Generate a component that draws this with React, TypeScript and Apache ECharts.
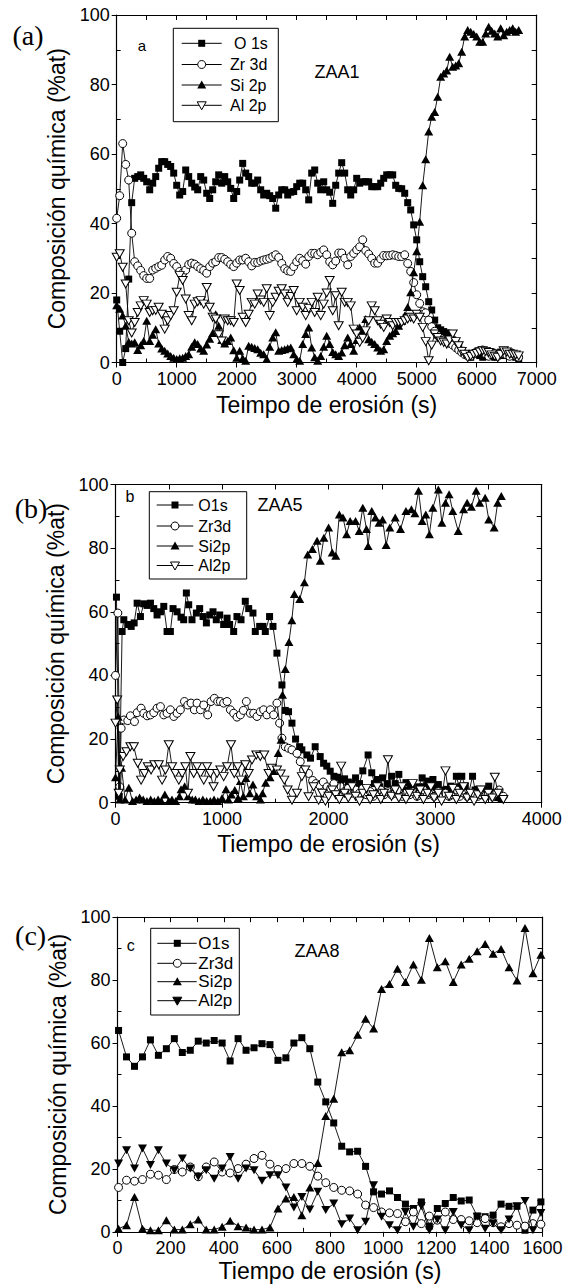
import { useEffect, useRef } from "react";
import * as echarts from "echarts";

// ---------------- DATA ----------------
// Panel (a) ZAA1 : erosion time (s)
const aTime = [
  0, 50, 100, 150, 200, 250, 300, 350, 400, 450,
  500, 550, 600, 650, 700, 750, 800, 850, 900, 950,
  1000, 1050, 1100, 1150, 1200, 1250, 1300, 1350, 1400, 1450,
  1500, 1550, 1600, 1650, 1700, 1750, 1800, 1850, 1900, 1950,
  2000, 2050, 2100, 2150, 2200, 2250, 2300, 2350, 2400, 2450,
  2500, 2550, 2600, 2650, 2700, 2750, 2800, 2850, 2900, 2950,
  3000, 3050, 3100, 3150, 3200, 3250, 3300, 3350, 3400, 3450,
  3500, 3550, 3600, 3650, 3700, 3750, 3800, 3850, 3900, 3950,
  4000, 4050, 4100, 4150, 4200, 4250, 4300, 4350, 4400, 4450,
  4500, 4550, 4600, 4650, 4700, 4750, 4800, 4850, 4900, 4950,
  5000, 5050, 5100, 5150, 5200, 5250, 5300, 5350, 5400, 5450,
  5500, 5550, 5600, 5650, 5700, 5750, 5800, 5850, 5900, 5950,
  6000, 6050, 6100, 6150, 6200, 6250, 6300, 6350, 6400, 6450,
  6500, 6550, 6600, 6650, 6700,
];
const aO1s = [
  18, 9, 0, 4, 24, 46, 53, 53.5, 54, 53,
  52, 49.7, 51.6, 53.5, 55.9, 57.8, 57.8, 57, 56.4, 54.5,
  51, 48.2, 49.2, 55.4, 53.5, 51.6, 50.5, 49.7, 53.5, 52.5,
  48.7, 47.2, 49.7, 52, 54, 51.6, 53.5, 52, 50.1, 47.2,
  49.2, 52.5, 57.3, 54.5, 53.5, 51.6, 51.6, 52.5, 49.7, 48.2,
  48.7, 48, 47.2, 44.4, 48.2, 49.7, 49.7, 48.2, 49, 49.2,
  50.6, 51.6, 51.6, 49.7, 46.8, 54.5, 55.4, 51.6, 49.7, 52,
  49.7, 49, 45.8, 51, 54.5, 57.5, 54.5, 49.7, 48.2, 49.7,
  53, 51.6, 52, 52, 52, 50.6, 50.6, 50.6, 51.6, 53,
  54, 54, 54, 51, 50.1, 50, 48.7, 46, 43.9, 39.6,
  35.3, 29, 24.7, 21.8, 17.5, 15.1, 12.2, 10, 9.4, 8.9,
  8.5, 7.4, 6.5, 5.5, 4.5, 3.5, 2.6, 2, 1.5, 2.5,
  3, 2, 1.5, 2.5, 2, 3, 1.5, 2, 3, 2,
  2.5, 3, 2, 1.5, 1,
];
const aZr3d = [
  41.5, 48, 63, 57, 52.5, 37.2, 29, 27.8, 26.5, 25,
  24.2, 24.2, 26.6, 27.1, 27.6, 28, 29.5, 30.5, 30, 28.5,
  27.6, 26.2, 25.7, 26.6, 28.2, 28.6, 28.3, 27.6, 27, 26.5,
  25.7, 27.6, 28.6, 29, 30.2, 30.2, 29.7, 29, 28.2, 27.6,
  28.6, 29.5, 29.5, 30, 29, 27.8, 28.8, 28.8, 29.2, 29.5,
  29.7, 30, 30.5, 31, 30.2, 28.5, 27, 26.4, 26.2, 27.6,
  29, 30, 29.3, 28.3, 30.5, 31.4, 31.4, 31, 31.7, 32.4,
  31, 29, 28.1, 29.2, 31.5, 31.5, 30, 28.1, 30.5, 31.4,
  32.4, 33.3, 35.3, 32.2, 31.2, 30, 28.6, 28.6, 29.8, 30.8,
  30.7, 30.8, 31, 30.8, 30.5, 30.5, 31, 28.5, 26.2, 23,
  19.5, 17, 14.6, 14.3, 12.2, 10.3, 9, 7.8, 7, 6.5,
  6, 5.5, 5, 4.3, 3.6, 2.9, 2.3, 1.9, 1.8, 2.5,
  3.1, 3.4, 3.6, 2.5, 1.8, 2.2, 2.6, 1.8, 2.5, 3,
  2.2, 1.8, 2.6, 2, 1.5,
];
const aSi2p = [
  16.5, 15.5, 13.5, 10.6, 6, 5.5, 5.8, 3.6, 5, 6.2,
  12, 6.2, 8, 9.6, 5.5, 4, 3.4, 2.6, 1.9, 1.4,
  1, 1.2, 1.4, 1.9, 2.4, 4.5, 5.8, 5.3, 4, 3.4,
  5.2, 6.8, 8.5, 13.9, 10.6, 6.5, 5.5, 6.2, 7.2, 3.5,
  1.4, 3.4, 1.2, 0.5, 4.8, 4.5, 4.2, 3.8, 2.8, 2.4,
  1, 4.5, 7.2, 8.7, 3.4, 3.6, 3.8, 4.1, 4.3, 2.4,
  1, 0.5, 5.3, 8.2, 10.1, 4.3, 1.5, 0.5, 1.9, 4.5,
  7.7, 5.3, 3, 2.4, 1.9, 2.9, 5, 7.2, 5.3, 3.4,
  6.5, 10.1, 9.1, 12.5, 6.7, 6, 5.3, 4.3, 3.4, 3.8,
  6.2, 7.7, 8.4, 9.1, 10.6, 12, 13.5, 16, 20.2, 26,
  32, 40.5, 51, 58.5, 66.5, 70.7, 72.1, 76.5, 82.2, 83.2,
  84, 88, 85.1, 85.5, 86.1, 89.4, 93.8, 95.7, 95.2, 94.5,
  93.8, 92.3, 92.3, 94.7, 96.6, 95.5, 94.7, 93.8, 96.2, 94.2,
  95.2, 95.7, 96.2, 95.2, 95.7,
];
const aAl2p = [
  30.3, 31.3, 27.4, 22.6, 12, 8.5, 11.5, 14.4, 16.3, 17.8,
  16.8, 14.4, 14.9, 15, 15.9, 13.9, 9.6, 12, 13.5, 14.9,
  20.2, 25, 23.6, 18.3, 13.5, 12, 16.8, 17.5, 17.8, 16.8,
  21.6, 15.9, 13, 12.5, 8, 6.2, 12.5, 12, 12, 11.5,
  22.6, 20.7, 13, 11.5, 13.9, 17.3, 16.8, 19.7, 18, 17.3,
  21.2, 13.5, 17.3, 18.8, 20.5, 21.2, 19.7, 17.3, 19, 20.7,
  14.9, 17.3, 15.9, 13.5, 15.5, 17.3, 14.4, 18.8, 13.5, 16.8,
  20, 23.6, 14.9, 19.2, 10.6, 20.2, 17.3, 17.3, 16.3, 9.6,
  8.2, 5.8, 7, 9.1, 12, 16.3, 14.9, 12, 11, 10.1,
  12.5, 11.5, 10.6, 11.5, 11.5, 11.5, 12, 12.5, 13, 12.5,
  13.9, 13, 10.1, 6, 0.5, 5, 8.2, 7.2, 6.2, 5.8,
  5.3, 6.5, 8.2, 6, 4.8, 3.2, 2.4, 1.4, 1.8, 2.4,
  2.6, 3, 3.4, 3.2, 2.9, 2.2, 1.8, 1.4, 2.4, 3.4,
  3, 2.4, 2.4, 2.2, 1.9,
];

// Panel (b) ZAA5 : [time (s), %at]
const bO1s = [
  [9, 64.6], [35, 2], [62, 53.8], [78, 57.5], [115, 56], [147, 55.4], [175, 56.5], [203, 62.7], [234, 58.5], [265, 62.5],
  [297, 62], [328, 62.7], [359, 61], [390, 59], [422, 60], [453, 61.7], [484, 53.8], [515, 53.8], [540, 61], [578, 60],
  [615, 58.3], [640, 57.5], [665, 65.9], [687, 62.2], [718, 57.5], [759, 59.6], [790, 61], [822, 58.5], [853, 56.5], [884, 59],
  [915, 60], [946, 57.5], [978, 59], [1015, 56], [1047, 58], [1071, 56], [1109, 53.8], [1140, 58.5], [1178, 57.5], [1218, 63.3],
  [1250, 61], [1290, 59.6], [1312, 53.8], [1353, 55.4], [1384, 55.4], [1406, 53.8], [1446, 58.5], [1478, 55.4], [1515, 47], [1562, 37],
  [1593, 29], [1624, 28.6], [1656, 25], [1690, 20], [1728, 17.6], [1749, 16.6], [1796, 15], [1830, 14], [1874, 17.6], [1921, 14.5],
  [1953, 12.4], [1983, 11.5], [2015, 9.9], [2050, 8.3], [2085, 8], [2118, 7.3], [2150, 7.5], [2185, 6.5], [2220, 6], [2253, 7.8],
  [2290, 6], [2321, 10], [2371, 15], [2405, 9.4], [2430, 6], [2456, 7.3], [2480, 5], [2506, 7.8], [2550, 6], [2591, 8.3],
  [2625, 6], [2659, 8.9], [2690, 5], [2726, 6.3], [2750, 4], [2777, 5.2], [2810, 3.5], [2845, 5], [2878, 7.8], [2900, 5],
  [2929, 6.8], [2955, 4], [2979, 7.3], [3000, 4.5], [3030, 5.7], [3060, 3], [3090, 4], [3115, 4.2], [3148, 5.2], [3175, 3.5],
  [3199, 8.3], [3225, 5], [3250, 8.3], [3283, 5.2], [3315, 3], [3351, 8.3], [3375, 4], [3402, 4.2], [3430, 3.5], [3452, 4.2],
  [3480, 3], [3503, 5.2], [3537, 3.1], [3560, 2.5], [3587, 1.6], [3620, 1],
];
const bZr3d = [
  [0, 40], [22, 59.6], [40, 5], [53, 23.4], [78, 26], [115, 25.8], [140, 27.3], [178, 25.5], [203, 28.3], [240, 29.7],
  [265, 28.1], [297, 27.3], [328, 27.6], [359, 28.3], [390, 29.7], [422, 30.2], [453, 27.6], [484, 28.1], [515, 29.2], [547, 27.1],
  [578, 28.1], [609, 29.2], [647, 31.8], [678, 30.7], [709, 31.3], [740, 29.2], [765, 31.3], [797, 29.2], [828, 30.7], [865, 27.6],
  [897, 31.8], [928, 32.8], [959, 31.8], [984, 31.8], [1015, 31.3], [1047, 31.8], [1078, 29.2], [1109, 28.1], [1140, 26.9], [1172, 27.6],
  [1200, 29], [1228, 31.8], [1265, 28.1], [1297, 28.1], [1328, 27.1], [1359, 28.6], [1390, 29.2], [1421, 27.6], [1453, 29.2], [1484, 27.6],
  [1515, 31.3], [1540, 25], [1562, 20.3], [1593, 17.6], [1624, 17.1], [1656, 16.6], [1703, 15.5], [1734, 12.9], [1765, 10.3], [1812, 9.2],
  [1850, 7], [1880, 6], [1915, 5.5], [1950, 6.5], [1985, 5], [2020, 4.5], [2050, 6], [2085, 4], [2118, 5], [2150, 3.5],
  [2185, 4.5], [2220, 3], [2253, 4], [2290, 3], [2321, 4.5], [2355, 2.5], [2390, 3.5], [2420, 2], [2456, 3], [2490, 4],
  [2520, 2.5], [2557, 3.5], [2590, 2.5], [2625, 3], [2659, 4], [2690, 2], [2726, 3], [2760, 2.5], [2790, 3.5], [2830, 2],
  [2860, 3], [2890, 4], [2929, 2.5], [2960, 3], [2990, 2], [3030, 3.5], [3060, 2.5], [3097, 3], [3130, 2], [3165, 2.5],
  [3199, 4], [3230, 2], [3267, 3], [3300, 2], [3330, 2.5], [3365, 3], [3400, 2], [3430, 2.5], [3470, 2], [3500, 3],
  [3537, 2], [3570, 3], [3600, 4], [3640, 2],
];
const bSi2p = [
  [0, 8], [25, 27], [40, 1], [57, 11], [90, 1], [125, 4.7], [160, 0.5], [193, 1], [226, 1.6], [260, 1],
  [295, 0.5], [330, 1], [365, 0.5], [400, 1], [430, 0.5], [463, 2.6], [500, 0.5], [530, 1], [565, 0.5], [600, 2],
  [615, 4.2], [649, 5.2], [680, 2], [720, 1], [750, 1], [785, 0.5], [820, 1], [855, 0.5], [890, 0.5], [925, 1],
  [960, 0.5], [1000, 1.5], [1037, 4.2], [1060, 1], [1088, 2.6], [1120, 4], [1150, 1.5], [1172, 6.8], [1200, 2], [1223, 7.8],
  [1260, 3], [1290, 5.7], [1324, 2], [1360, 1], [1380, 3], [1409, 6.3], [1450, 8], [1493, 10], [1527, 15.6], [1554, 19.8],
  [1567, 33.9], [1594, 42], [1628, 50.5], [1655, 57.3], [1679, 65.6], [1729, 64], [1773, 69.3], [1804, 78], [1848, 79.7], [1892, 82.3],
  [1922, 76], [1956, 83.3], [2000, 86.5], [2034, 78.6], [2067, 77.6], [2101, 90.6], [2135, 89.6], [2169, 84.4], [2202, 88.5], [2253, 88.5],
  [2287, 85.4], [2321, 92.7], [2355, 86], [2371, 80.7], [2405, 91.7], [2439, 89.6], [2473, 88], [2506, 89], [2540, 81], [2574, 86.5],
  [2625, 89.6], [2675, 86], [2726, 91.7], [2777, 92.2], [2810, 91], [2844, 98], [2878, 88.5], [2912, 90.6], [2946, 84.4], [2979, 92.7],
  [3030, 98.4], [3063, 88], [3097, 94.3], [3131, 96.9], [3165, 91.7], [3216, 85.4], [3267, 92.2], [3300, 94.3], [3340, 93], [3385, 98],
  [3418, 94.3], [3469, 95.8], [3503, 89], [3554, 86.5], [3587, 94.3], [3621, 96.4],
];
const bAl2p = [
  [0, 25], [16, 32.3], [30, 3], [40, 10.3], [72, 14.5], [103, 16], [140, 17.6], [172, 17.6], [209, 12.4], [240, 7.1],
  [272, 9.2], [303, 11.3], [334, 10.3], [365, 11.9], [406, 11.9], [437, 7.1], [469, 10.3], [500, 18.2], [531, 11.3], [562, 9.2],
  [594, 7.1], [625, 9.2], [656, 11.3], [680, 3], [703, 14.5], [734, 9.2], [765, 11.3], [797, 9.2], [828, 7.1], [859, 11.3],
  [890, 9.2], [920, 5], [953, 9.2], [984, 10.3], [1015, 8.2], [1047, 11.3], [1084, 18.2], [1115, 9.2], [1147, 11.3], [1178, 7.1],
  [1218, 11.9], [1250, 9.2], [1281, 13.4], [1322, 15], [1359, 14.5], [1396, 15], [1437, 9.2], [1468, 10.8], [1515, 10.3], [1550, 9],
  [1584, 7.1], [1615, 4], [1656, 0.8], [1703, 3], [1749, 8.2], [1781, 10.3], [1812, 1.9], [1859, 5], [1906, 0.8], [1940, 3],
  [1970, 0.5], [2000, 2], [2034, 4], [2067, 2.5], [2101, 1], [2118, 11.5], [2150, 3], [2185, 1.5], [2220, 5], [2253, 2],
  [2290, 0.5], [2321, 3], [2355, 4.5], [2390, 1], [2420, 2.5], [2456, 5], [2490, 1], [2520, 3], [2557, 13.5], [2590, 2],
  [2625, 4], [2659, 1.5], [2690, 5], [2726, 1], [2760, 3], [2790, 6], [2830, 2], [2860, 4], [2890, 1], [2929, 3],
  [2960, 5], [2990, 1.5], [3030, 3], [3060, 0.5], [3097, 10], [3130, 2], [3165, 4.5], [3199, 1], [3230, 3], [3267, 5],
  [3300, 1.5], [3330, 3], [3365, 0.5], [3400, 2.5], [3430, 4], [3470, 1], [3500, 3], [3537, 1.5], [3560, 8], [3590, 3],
  [3640, 1],
];

// Panel (c) ZAA8
const cTime = [
  4, 34, 64, 94, 124, 154, 184, 214, 244, 274,
  304, 334, 364, 394, 424, 454, 484, 514, 544, 574,
  604, 634, 664, 694, 724, 754, 784, 814, 844, 874,
  904, 934, 964, 994, 1024, 1054, 1084, 1114, 1144, 1174,
  1204, 1234, 1264, 1294, 1324, 1354, 1384, 1414, 1444, 1474,
  1504, 1534, 1564, 1594,
];
const cO1s = [
  64, 55.6, 52.6, 55.6, 61, 56.1, 58.2, 61.4, 57, 57.7,
  60.6, 60, 60.8, 60, 54.3, 61.4, 57.7, 58.5, 59.8, 59.5,
  54.5, 55.3, 60, 61.7, 58.2, 47.6, 41.3, 34.6, 27.2, 25.4,
  25.6, 20.8, 12.7, 12, 13, 10.9, 8.8, 7.4, 9.5, 1.8,
  7.4, 9, 10.9, 9.8, 10.1, 5, 4.8, 5.3, 8.8, 8.1,
  8.1, 0.5, 6.9, 9.5,
];
const cZr3d = [
  14.1, 16.4, 16.1, 16.6, 18.3, 18, 16.6, 19.8, 19, 20.6,
  17.5, 20.6, 22.2, 19, 18.7, 20.1, 21.5, 23.3, 24.3, 21.5,
  19.8, 20.1, 21.7, 21.7, 20.8, 17.7, 15.6, 14.1, 13.2, 13,
  12, 8.5, 7.7, 6.3, 6, 5.8, 3.2, 6.3, 2.6, 5,
  3.7, 6.3, 3.9, 3.9, 3.5, 2.9, 4.2, 2.9, 1.6, 2.6,
  2.1, 1.8, 2.6, 2.4,
];
const cSi2p = [
  1, 2.1, 11.1, 1, 0.5, 0.5, 3.7, 0.7, 0.7, 2.4,
  3.9, 0.7, 0.7, 1.6, 3.5, 1.8, 1.4, 0.7, 0.7, 1.4,
  7.4, 10.6, 11.1, 5.3, 14.1, 21.9, 36.8, 42.3, 57.1, 57.7,
  62.6, 67.7, 64.6, 77.2, 78.8, 83.6, 79.4, 85, 80.1, 93.4,
  84.1, 86, 79.4, 85, 86.8, 89.2, 91.5, 88.4, 89.9, 84.1,
  79.9, 96.6, 82.2, 88.1,
];
const cAl2p = [
  21.7, 25.9, 20.1, 26.5, 21.2, 25.9, 21.7, 19.6, 23.3, 20.1,
  17.5, 19.6, 16.9, 20.1, 23.8, 16.9, 20.1, 19.6, 16.2, 18,
  18, 14.1, 7.7, 11.1, 7.1, 12.7, 6.9, 9, 2.4, 4.2,
  0.5, 3.2, 14.8, 4.8, 2.1, 0.5, 6.3, 1.6, 8.1, 0.5,
  3.9, 0.5, 6.3, 2.1, 0.5, 4.8, 1, 2.6, 0.5, 3.9,
  8.1, 9.8, 0.5, 6,
];

const namesA = ["O 1s", "Zr 3d", "Si 2p", "Al 2p"];
const namesBC = ["O1s", "Zr3d", "Si2p", "Al2p"];

// ---------------- LAYOUT / STYLE ----------------
const FONT = "Liberation Sans";
const SERIF = "Liberation Serif";
const BLACK = "#000";

type Kind = "sq" | "circ" | "tri" | "itri" | "itriF";

const zip = (t: number[], v: number[]) => t.map((x, i) => [x, v[i]]);

function symbolOpts(kind: Kind) {
  switch (kind) {
    case "sq":
      return { symbol: "rect", symbolSize: 7, itemStyle: { color: BLACK } };
    case "circ":
      return { symbol: "circle", symbolSize: 8, itemStyle: { color: "#fff", borderColor: BLACK, borderWidth: 1 } };
    case "tri":
      return { symbol: "triangle", symbolSize: [9, 8], itemStyle: { color: BLACK } };
    case "itri":
      return { symbol: "triangle", symbolRotate: 180, symbolSize: [9, 8], itemStyle: { color: "#fff", borderColor: BLACK, borderWidth: 1 } };
    default:
      return { symbol: "triangle", symbolRotate: 180, symbolSize: [9, 8], itemStyle: { color: BLACK } };
  }
}

function legendSymbol(kind: Kind, cx: number, cy: number): any {
  if (kind === "sq") return { type: "rect", shape: { x: cx - 3.5, y: cy - 3.5, width: 7, height: 7 }, style: { fill: BLACK } };
  if (kind === "circ") return { type: "circle", shape: { cx, cy, r: 4 }, style: { fill: "#fff", stroke: BLACK, lineWidth: 1 } };
  if (kind === "tri")
    return { type: "polygon", shape: { points: [[cx, cy - 4.5], [cx + 4.5, cy + 3.5], [cx - 4.5, cy + 3.5]] }, style: { fill: BLACK } };
  const fill = kind === "itri" ? "#fff" : BLACK;
  return {
    type: "polygon",
    shape: { points: [[cx - 4.5, cy - 3.5], [cx + 4.5, cy - 3.5], [cx, cy + 4.5]] },
    style: { fill, stroke: BLACK, lineWidth: 1 },
  };
}

interface Panel {
  left: number; top: number; width: number; height: number;
  xMax: number; xMajor: number; xMinor: number;
  xName: string; xNameGap: number;
  series: { name: string; data: number[][]; kind: Kind }[];
  tag: string; tagX: number; tagY: number;
  letter: string; letterX: number; letterY: number; letterSize: number;
  sample: string; sampleX: number; sampleY: number; sampleSize: number;
  legend: { x: number; y: number; w: number; h: number; rows: number[]; l1: number; l2: number; mx: number; tx: number[]; fs: number };
}

const panels: Panel[] = [
  {
    left: 116.7, top: 15, width: 420, height: 347.5,
    xMax: 7000, xMajor: 1000, xMinor: 500,
    xName: "Teimpo de erosión (s)", xNameGap: 31,
    series: [
      { name: namesA[0], data: zip(aTime, aO1s), kind: "sq" },
      { name: namesA[1], data: zip(aTime, aZr3d), kind: "circ" },
      { name: namesA[2], data: zip(aTime, aSi2p), kind: "tri" },
      { name: namesA[3], data: zip(aTime, aAl2p), kind: "itri" },
    ],
    tag: "(a)", tagX: 28, tagY: 35,
    letter: "a", letterX: 142, letterY: 45, letterSize: 15,
    sample: "ZAA1", sampleX: 337, sampleY: 72, sampleSize: 18,
    legend: { x: 173.3, y: 28.3, w: 105, h: 93.4, rows: [43.3, 64.5, 85, 105.3], l1: 181.7, l2: 221.7, mx: 201.7, tx: [234, 230, 230, 230], fs: 16 },
  },
  {
    left: 115.5, top: 484.5, width: 426.2, height: 318.2,
    xMax: 4000, xMajor: 1000, xMinor: 500,
    xName: "Tiempo de erosión (s)", xNameGap: 30,
    series: [
      { name: namesBC[0], data: bO1s, kind: "sq" },
      { name: namesBC[1], data: bZr3d, kind: "circ" },
      { name: namesBC[2], data: bSi2p, kind: "tri" },
      { name: namesBC[3], data: bAl2p, kind: "itri" },
    ],
    tag: "(b)", tagX: 31, tagY: 508,
    letter: "b", letterX: 130, letterY: 496, letterSize: 16,
    sample: "ZAA5", sampleX: 280, sampleY: 505, sampleSize: 18,
    legend: { x: 149.3, y: 491.7, w: 97.4, h: 87.3, rows: [505, 526, 546, 565.5], l1: 156.7, l2: 193.3, mx: 175, tx: [198.3, 198.3, 198.3, 198.3], fs: 16 },
  },
  {
    left: 117.5, top: 917.2, width: 425, height: 314.6,
    xMax: 1600, xMajor: 200, xMinor: 100,
    xName: "Tiempo de erosión (s)", xNameGap: 28,
    series: [
      { name: namesBC[0], data: zip(cTime, cO1s), kind: "sq" },
      { name: namesBC[1], data: zip(cTime, cZr3d), kind: "circ" },
      { name: namesBC[2], data: zip(cTime, cSi2p), kind: "tri" },
      { name: namesBC[3], data: zip(cTime, cAl2p), kind: "itriF" },
    ],
    tag: "(c)", tagX: 30.6, tagY: 935,
    letter: "c", letterX: 130.7, letterY: 945, letterSize: 16,
    sample: "ZAA8", sampleX: 317, sampleY: 951, sampleSize: 18,
    legend: { x: 150.7, y: 928.3, w: 88.6, h: 86.7, rows: [943.3, 963.3, 981.7, 1000.7], l1: 157.3, l2: 196.7, mx: 177.3, tx: [198.3, 198.3, 198.3, 198.3], fs: 17 },
  },
];

const plainNum = (v: number) => String(v);

function buildOption() {
  const grid: any[] = [];
  const xAxis: any[] = [];
  const yAxis: any[] = [];
  const series: any[] = [];
  const graphic: any[] = [];

  const lineAxis = { show: true, onZero: false, lineStyle: { color: BLACK, width: 1.2 } };
  const tickLine = { color: BLACK, width: 1 };

  panels.forEach((p) => {
    const rect = { left: p.left, top: p.top, width: p.width, height: p.height, containLabel: false };
    const gA = grid.length;
    grid.push({ ...rect });
    const gB = grid.length;
    grid.push({ ...rect });

    const xi = xAxis.length;
    xAxis.push({
      type: "value", gridIndex: gA, position: "bottom", min: 0, max: p.xMax, interval: p.xMajor,
      axisLine: lineAxis, splitLine: { show: false },
      axisTick: { show: true, inside: false, length: 5, lineStyle: tickLine },
      minorTick: { show: false },
      axisLabel: { show: true, color: BLACK, fontSize: 18, fontFamily: FONT, margin: 7, showMinLabel: true, showMaxLabel: true, formatter: plainNum },
      name: p.xName, nameLocation: "middle", nameGap: p.xNameGap,
      nameTextStyle: { color: BLACK, fontSize: 23, fontFamily: FONT },
    });
    xAxis.push({
      type: "value", gridIndex: gA, position: "top", min: 0, max: p.xMax, interval: p.xMinor,
      axisLine: lineAxis, splitLine: { show: false },
      axisTick: { show: true, inside: true, length: 5, lineStyle: tickLine },
      axisLabel: { show: false },
    });
    xAxis.push({
      type: "value", gridIndex: gB, position: "bottom", min: 0, max: p.xMax, interval: p.xMajor,
      axisLine: { show: false }, splitLine: { show: false },
      axisTick: { show: false, inside: true },
      minorTick: { show: true, splitNumber: 2, length: 4, lineStyle: tickLine },
      axisLabel: { show: false },
    });

    const yi = yAxis.length;
    yAxis.push({
      type: "value", gridIndex: gA, position: "left", min: 0, max: 100, interval: 20,
      axisLine: lineAxis, splitLine: { show: false },
      axisTick: { show: true, inside: false, length: 5, lineStyle: tickLine },
      minorTick: { show: false },
      axisLabel: { show: true, color: BLACK, fontSize: 18, fontFamily: FONT, margin: 7, formatter: plainNum },
      name: "Composición química (%at)", nameLocation: "middle", nameGap: 38, nameRotate: 90,
      nameTextStyle: { color: BLACK, fontSize: 23, fontFamily: FONT },
    });
    yAxis.push({
      type: "value", gridIndex: gA, position: "right", min: 0, max: 100, interval: 10,
      axisLine: lineAxis, splitLine: { show: false },
      axisTick: { show: true, inside: true, length: 5, lineStyle: tickLine },
      axisLabel: { show: false },
    });
    yAxis.push({
      type: "value", gridIndex: gB, position: "left", min: 0, max: 100, interval: 20,
      axisLine: { show: false }, splitLine: { show: false },
      axisTick: { show: false, inside: true },
      minorTick: { show: true, splitNumber: 2, length: 4, lineStyle: tickLine },
      axisLabel: { show: false },
    });

    p.series.forEach((s, k) => {
      series.push({
        type: "line", name: s.name, xAxisIndex: xi, yAxisIndex: yi, data: s.data,
        ...symbolOpts(s.kind),
        showSymbol: true, showAllSymbol: true, silent: true,
        lineStyle: { color: BLACK, width: 0.9 },
        emphasis: { disabled: true },
        z: 2 + k,
      });
    });

    graphic.push({ type: "text", x: p.tagX, y: p.tagY, silent: true, style: { text: p.tag, fill: BLACK, fontSize: 28, fontFamily: SERIF, align: "center", verticalAlign: "middle" } });
    graphic.push({ type: "text", x: p.letterX, y: p.letterY, silent: true, style: { text: p.letter, fill: BLACK, fontSize: p.letterSize, fontFamily: FONT, align: "center", verticalAlign: "middle" } });
    graphic.push({ type: "text", x: p.sampleX, y: p.sampleY, silent: true, style: { text: p.sample, fill: BLACK, fontSize: p.sampleSize, fontFamily: FONT, align: "center", verticalAlign: "middle" } });

    const L = p.legend;
    graphic.push({ type: "rect", silent: true, shape: { x: L.x, y: L.y, width: L.w, height: L.h }, style: { fill: "#fff", stroke: BLACK, lineWidth: 1 }, z: 50 });
    p.series.forEach((s, k) => {
      const y = L.rows[k];
      graphic.push({ type: "line", silent: true, shape: { x1: L.l1, y1: y, x2: L.l2, y2: y }, style: { stroke: BLACK, lineWidth: 1 }, z: 51 });
      graphic.push({ ...legendSymbol(s.kind, L.mx, y), silent: true, z: 52 });
      graphic.push({ type: "text", x: L.tx[k], y, silent: true, z: 52, style: { text: s.name, fill: BLACK, fontSize: L.fs, fontFamily: FONT, align: "left", verticalAlign: "middle" } });
    });
  });

  return {
    animation: false,
    backgroundColor: "#fff",
    textStyle: { fontFamily: FONT },
    grid, xAxis, yAxis, series, graphic,
  };
}

export default function App() {
  const ref = useRef<HTMLDivElement>(null);
  useEffect(() => {
    if (!ref.current) return;
    const chart = echarts.init(ref.current, undefined, { renderer: "svg" });
    chart.setOption(buildOption() as any);
    return () => chart.dispose();
  }, []);
  return <div ref={ref} style={{ position: "absolute", left: 0, top: 0, width: 566, height: 1285 }} />;
}
